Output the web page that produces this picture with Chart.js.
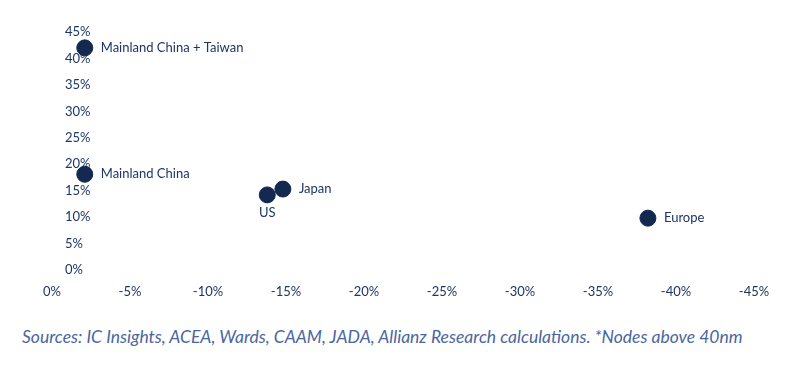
<!DOCTYPE html>
<html>
<head>
<meta charset="utf-8">
<script src="https://cdn.jsdelivr.net/npm/chart.js@4"></script>
<style>
  body { margin: 0; background: #fff; }
  #wrap { position: relative; width: 800px; height: 310px; }
  #note {
    position: absolute; left: 22px; top: 326px;
    font-family: Lato, "Open Sans", sans-serif; font-style: italic;
    font-size: 17.5px; color: #4a66a0;
  }
</style>
</head>
<body>
<div id="wrap"><canvas id="chart"></canvas></div>
<div id="note">Sources: IC Insights, ACEA, Wards, CAAM, JADA, Allianz Research calculations. *Nodes above 40nm</div>
<script>
// x: change (%), y: share (%)
const regions = ["Mainland China + Taiwan", "Mainland China", "US", "Japan", "Europe"];
const xValues = [-2.1, -2.1, -13.8, -14.8, -38.2];
const yValues = [42, 18.1, 14.2, 15.3, 9.8];
const labelSide = ["right", "right", "below", "right", "right"];
const xTicks = [0, -5, -10, -15, -20, -25, -30, -35, -40, -45];
const yTicks = [0, 5, 10, 15, 20, 25, 30, 35, 40, 45];

const navy = "#13294f";
const tickColor = "#1c3565";
const fontFamily = "Lato, 'Open Sans', sans-serif";

// Draw region names next to their points
const pointLabels = {
    id: "pointLabels",
    afterDatasetsDraw(chart) {
        const ctx = chart.ctx;
        const meta = chart.getDatasetMeta(0);
        ctx.save();
        ctx.font = "13px " + fontFamily;
        ctx.fillStyle = tickColor;
        meta.data.forEach((pt, i) => {
            if (labelSide[i] === "below") {
                ctx.textAlign = "center";
                ctx.textBaseline = "middle";
                ctx.fillText(regions[i], pt.x, pt.y + 18);
            } else {
                ctx.textAlign = "left";
                ctx.textBaseline = "middle";
                ctx.fillText(regions[i], pt.x + 16, pt.y);
            }
        });
        ctx.restore();
    },
};

new Chart(document.getElementById("chart"), {
    type: "scatter",
    data: {
        datasets: [
            {
                data: xValues.map((x, i) => ({ x: x, y: yValues[i] })),
                backgroundColor: navy,
                borderColor: navy,
                pointRadius: 8,
                pointHoverRadius: 8,
            },
        ],
    },
    options: {
        responsive: true,
        maintainAspectRatio: false,
        animation: false,
        layout: { padding: { left: 52, right: 46, top: 32, bottom: 10 } },
        plugins: {
            legend: { display: false },
            tooltip: { enabled: false },
        },
        scales: {
            x: {
                type: "linear",
                min: -45,
                max: 0,
                reverse: true,
                afterBuildTicks: (s) => { s.ticks = xTicks.map((v) => ({ value: v })); },
                afterFit: (s) => { s.height = 30; },
                grid: { display: false, drawTicks: false },
                border: { display: false },
                ticks: {
                    padding: 14,
                    color: tickColor,
                    font: { family: fontFamily, size: 13 },
                    callback: (v) => v + "%",
                },
            },
            y: {
                type: "linear",
                min: 0,
                max: 45,
                afterBuildTicks: (s) => { s.ticks = yTicks.map((v) => ({ value: v })); },
                afterFit: (s) => { s.width = 0; },
                grid: { display: false, drawTicks: false },
                border: { display: false },
                ticks: {
                    mirror: true,
                    padding: 13,
                    color: tickColor,
                    font: { family: fontFamily, size: 13 },
                    callback: (v) => v + "%",
                },
            },
        },
    },
    plugins: [pointLabels],
});
</script>
</body>
</html>
